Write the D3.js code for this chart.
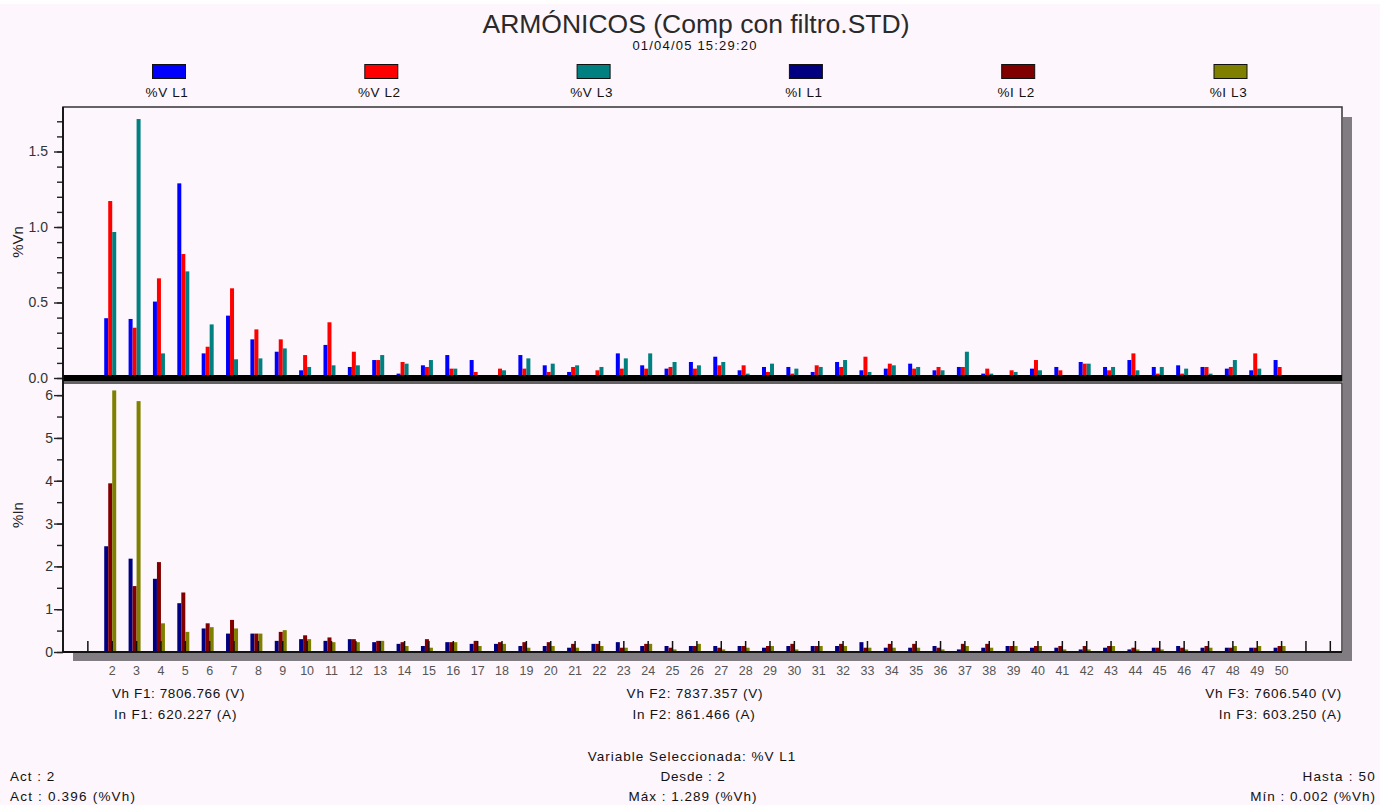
<!DOCTYPE html>
<html>
<head>
<meta charset="utf-8">
<script src="https://cdn.jsdelivr.net/npm/d3@7"></script>
<style>
  html, body { margin: 0; padding: 0; background: #ffffff; }
  svg { display: block; }
  text { font-family: "Liberation Sans", Arial, sans-serif; }
</style>
</head>
<body>
<svg id="chart" width="1395" height="805"></svg>
<script>
// Harmonic orders shown on the x axis
const harmonics = d3.range(2, 51);

// Voltage harmonics (% of fundamental), orders 2..50
const vL1 = [0.396,0.391,0.506,1.289,0.163,0.413,0.256,0.174,0.051,0.219,0.073,0.119,0.029,0.084,0.152,0.119,0.005,0.152,0.084,0.040,0.002,0.163,0.084,0.062,0.106,0.141,0.051,0.073,0.073,0.040,0.106,0.051,0.062,0.095,0.051,0.073,0.029,0.018,0.062,0.073,0.106,0.073,0.119,0.073,0.084,0.073,0.062,0.051,0.119];
const vL2 = [1.172,0.333,0.660,0.821,0.207,0.594,0.322,0.256,0.152,0.369,0.174,0.119,0.106,0.073,0.062,0.040,0.062,0.062,0.040,0.073,0.051,0.062,0.062,0.073,0.062,0.084,0.084,0.040,0.029,0.084,0.073,0.141,0.095,0.062,0.073,0.073,0.062,0.051,0.119,0.051,0.095,0.051,0.163,0.029,0.029,0.073,0.073,0.163,0.073];
const vL3 = [0.967,1.715,0.163,0.706,0.355,0.124,0.130,0.196,0.073,0.084,0.084,0.152,0.095,0.119,0.062,0.018,0.051,0.130,0.095,0.084,0.073,0.130,0.163,0.106,0.084,0.106,0.029,0.095,0.062,0.073,0.119,0.040,0.084,0.073,0.051,0.174,0.029,0.040,0.051,0.018,0.095,0.073,0.051,0.073,0.062,0.029,0.119,0.062,0.018];

// Current harmonics (% of fundamental), orders 2..50
const iL1 = [2.47,2.18,1.71,1.14,0.55,0.43,0.43,0.26,0.30,0.26,0.30,0.23,0.19,0.14,0.23,0.19,0.19,0.14,0.14,0.10,0.19,0.23,0.14,0.14,0.14,0.14,0.14,0.10,0.14,0.14,0.14,0.23,0.10,0.10,0.14,0.06,0.10,0.14,0.10,0.10,0.06,0.10,0.06,0.10,0.14,0.10,0.10,0.10,0.10];
const iL2 = [3.94,1.54,2.10,1.39,0.67,0.75,0.43,0.47,0.39,0.34,0.30,0.26,0.23,0.30,0.23,0.26,0.23,0.23,0.23,0.19,0.19,0.10,0.19,0.10,0.14,0.10,0.14,0.14,0.19,0.14,0.19,0.10,0.19,0.19,0.10,0.19,0.19,0.14,0.14,0.14,0.14,0.14,0.10,0.10,0.10,0.14,0.10,0.10,0.14];
const iL3 = [6.11,5.86,0.67,0.47,0.58,0.55,0.43,0.51,0.30,0.23,0.23,0.26,0.14,0.10,0.23,0.14,0.19,0.10,0.14,0.10,0.14,0.10,0.19,0.06,0.19,0.06,0.10,0.14,0.06,0.14,0.14,0.10,0.10,0.10,0.06,0.14,0.10,0.14,0.14,0.06,0.06,0.14,0.06,0.06,0.06,0.10,0.14,0.14,0.14];

const seriesNames = ["%V L1", "%V L2", "%V L3", "%I L1", "%I L2", "%I L3"];
const seriesColors = ["#0000ff", "#ff0000", "#008080", "#000080", "#800000", "#808000"];

const topTicksMajor = [0, 0.5, 1.0, 1.5];
const topTicksMinor = d3.range(0, 1.75, 0.1);
const botTicksMajor = [0, 1, 2, 3, 4, 5, 6];
const botTicksMinor = d3.range(0, 6.01, 0.5);

const svg = d3.select("#chart");

// Page background
svg.append("rect").attr("x", 0).attr("y", 4).attr("width", 1380).attr("height", 801).attr("fill", "#fdf6fc");

// Scales
const x = d3.scaleLinear().domain([0, 52.5]).range([63, 1342]);
const yTop = d3.scaleLinear().domain([0, 1.8]).range([378, 106.2]);
const yBot = d3.scaleLinear().domain([0, 6.33]).range([652, 381]);

const barW = 4;
const barOffset = -7.5;

// Title block
svg.append("text").attr("x", 696).attr("y", 33).attr("text-anchor", "middle")
  .attr("font-size", 26.5).attr("fill", "#2a2a2a").text("ARMÓNICOS (Comp con filtro.STD)");
svg.append("text").attr("x", 695).attr("y", 50).attr("text-anchor", "middle")
  .attr("font-size", 13).attr("letter-spacing", 1.2).attr("fill", "#111").text("01/04/05 15:29:20");

// Legend
const legendX = d3.scaleLinear().domain([0, 5]).range([169, 1230.5]);
const lg = svg.append("g").selectAll("g").data(seriesNames).join("g")
  .attr("transform", (d, i) => `translate(${legendX(i)},0)`);
lg.append("rect").attr("x", -16.5).attr("y", 64.5).attr("width", 33).attr("height", 14)
  .attr("fill", (d, i) => seriesColors[i]).attr("stroke", "#111").attr("stroke-width", 1);
lg.append("text").attr("x", -2).attr("y", 97).attr("text-anchor", "middle")
  .attr("font-size", 13.5).attr("letter-spacing", 0.6).attr("fill", "#111").text(d => d);

// Drop shadows of the two panels
svg.append("rect").attr("x", 1343).attr("y", 117).attr("width", 9).attr("height", 544).attr("fill", "#817c82");
svg.append("rect").attr("x", 73).attr("y", 653).attr("width", 1279).attr("height", 8).attr("fill", "#817c82");

// Panel frames
svg.append("rect").attr("x", 63).attr("y", 107).attr("width", 1279).attr("height", 274)
  .attr("fill", "#fdf6fc").attr("stroke", "#333").attr("stroke-width", 1.5);
svg.append("rect").attr("x", 63).attr("y", 383).attr("width", 1279).attr("height", 269)
  .attr("fill", "#fdf6fc").attr("stroke", "#333").attr("stroke-width", 1.5);

// Top panel bars (voltage)
const vSeries = [vL1, vL2, vL3];
const gTop = svg.append("g");
vSeries.forEach((vals, s) => {
  gTop.selectAll(null).data(harmonics).join("rect")
    .attr("x", (h) => x(h) + barOffset + s * barW)
    .attr("y", (h, i) => yTop(vals[i]))
    .attr("width", barW)
    .attr("height", (h, i) => yTop(0) - yTop(vals[i]))
    .attr("fill", seriesColors[s]);
});

// Thick zero line of the voltage panel
svg.append("rect").attr("x", 63).attr("y", 375).attr("width", 1279).attr("height", 6).attr("fill", "#000");

// Bottom panel bars (current)
const iSeries = [iL1, iL2, iL3];
const gBot = svg.append("g");
iSeries.forEach((vals, s) => {
  gBot.selectAll(null).data(harmonics).join("rect")
    .attr("x", (h) => x(h) + barOffset + s * barW)
    .attr("y", (h, i) => yBot(vals[i]))
    .attr("width", barW)
    .attr("height", (h, i) => yBot(0) - yBot(vals[i]))
    .attr("fill", seriesColors[s + 3]);
});

// Y axes
function yAxis(scale, major, minor, fmt, labelPad) {
  const g = svg.append("g").attr("transform", "translate(63,0)");
  const mn = g.append("g").call(d3.axisLeft(scale).tickValues(minor).tickSize(6).tickFormat(""));
  const mj = g.append("g").call(d3.axisLeft(scale).tickValues(major).tickSize(9).tickPadding(labelPad).tickFormat(fmt));
  [mn, mj].forEach(a => {
    a.select(".domain").remove();
    a.selectAll("line").attr("stroke", "#222").attr("stroke-width", 1.4);
  });
  mj.selectAll("text").attr("font-size", 14).attr("fill", "#333")
    .attr("font-family", "'Liberation Sans', Arial, sans-serif");
}
yAxis(yTop, topTicksMajor, topTicksMinor, d3.format(".1f"), 6);
yAxis(yBot, botTicksMajor, botTicksMinor, d3.format("d"), 1);

svg.append("line").attr("x1", 63).attr("x2", 63).attr("y1", 107).attr("y2", 652)
  .attr("stroke", "#111").attr("stroke-width", 1.8);

// X axis of the current panel: tick marks on top of the bars, labels below
const tickG = svg.append("g").attr("transform", "translate(0,652)")
  .call(d3.axisTop(x).tickValues(d3.range(1, 53)).tickSize(11).tickFormat(""));
tickG.select(".domain").remove();
tickG.selectAll("line").attr("stroke", "#111").attr("stroke-width", 1.5);

const labG = svg.append("g").attr("transform", "translate(0,661)")
  .call(d3.axisBottom(x).tickValues(harmonics).tickSize(0).tickPadding(5).tickFormat(d3.format("d")));
labG.select(".domain").remove();
labG.selectAll("text").attr("font-size", 12.5).attr("fill", "#555")
  .attr("font-family", "'Liberation Sans', Arial, sans-serif");

svg.append("line").attr("x1", 63).attr("x2", 1342).attr("y1", 652).attr("y2", 652)
  .attr("stroke", "#111").attr("stroke-width", 2);

// Axis titles
svg.append("text").attr("transform", "translate(23,242) rotate(-90)").attr("text-anchor", "middle")
  .attr("font-size", 15).attr("fill", "#222").text("%Vn");
svg.append("text").attr("transform", "translate(23,515) rotate(-90)").attr("text-anchor", "middle")
  .attr("font-size", 15).attr("fill", "#222").text("%In");

// Footer readouts
const footer = [
  { t: "Vh F1: 7806.766 (V)", x: 112, y: 698, a: "start", ls: 0.6 },
  { t: "In F1: 620.227 (A)", x: 114, y: 719, a: "start", ls: 0.8 },
  { t: "Vh F2: 7837.357 (V)", x: 695, y: 698, a: "middle", ls: 0.8 },
  { t: "In F2: 861.466 (A)", x: 694, y: 719, a: "middle", ls: 0.8 },
  { t: "Vh F3: 7606.540 (V)", x: 1342, y: 698, a: "end", ls: 0.8 },
  { t: "In F3: 603.250 (A)", x: 1342, y: 719, a: "end", ls: 0.8 },
  { t: "Variable Seleccionada: %V L1", x: 692, y: 761, a: "middle", ls: 1.0 },
  { t: "Desde : 2", x: 693, y: 781, a: "middle", ls: 0.8 },
  { t: "Máx : 1.289 (%Vh)", x: 693, y: 801, a: "middle", ls: 1.0 },
  { t: "Act : 2", x: 10, y: 781, a: "start", ls: 1.0 },
  { t: "Act : 0.396 (%Vh)", x: 10, y: 801, a: "start", ls: 1.2 },
  { t: "Hasta : 50", x: 1376, y: 781, a: "end", ls: 1.2 },
  { t: "Mín : 0.002 (%Vh)", x: 1376, y: 801, a: "end", ls: 1.0 }
];
svg.append("g").selectAll("text").data(footer).join("text")
  .attr("x", d => d.x).attr("y", d => d.y).attr("text-anchor", d => d.a)
  .attr("letter-spacing", d => d.ls)
  .attr("font-size", 13.5).attr("fill", "#111").text(d => d.t);
</script>
</body>
</html>
